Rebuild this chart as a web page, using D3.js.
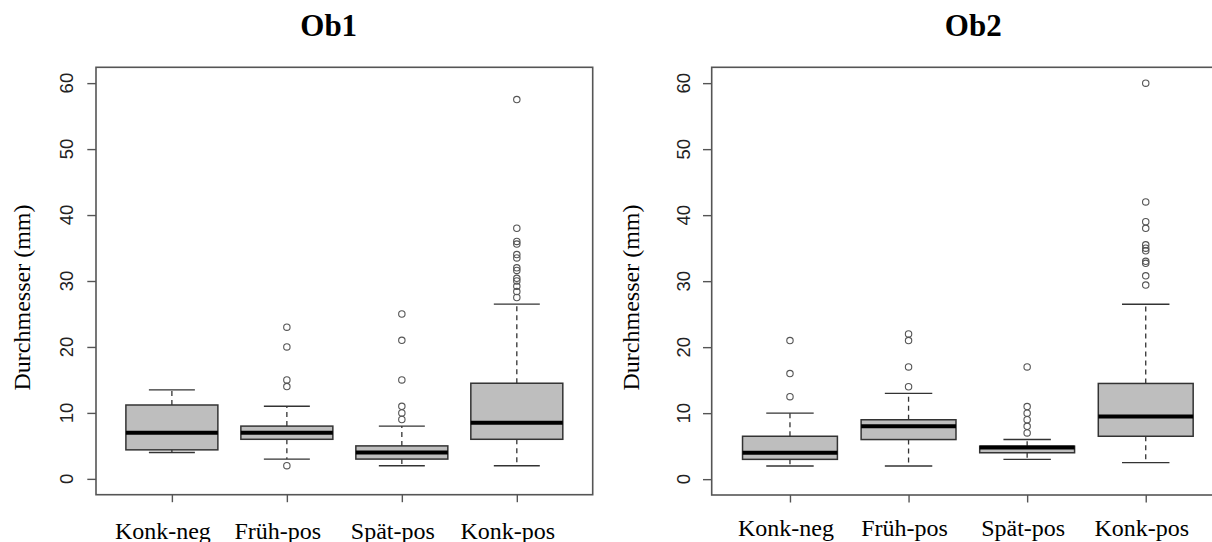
<!DOCTYPE html>
<html>
<head>
<meta charset="utf-8">
<script src="https://cdn.jsdelivr.net/npm/d3@7"></script>
<style>
  html, body { margin: 0; padding: 0; background: #fff; }
  svg { display: block; }
</style>
</head>
<body>
<svg id="chart" width="1212" height="542"></svg>
<script>
// ---------- data ----------
const categories = ["Konk-neg", "Früh-pos", "Spät-pos", "Konk-pos"];
const yTicks = [0, 10, 20, 30, 40, 50, 60];
const panelTitles = ["Ob1", "Ob2"];
const yLabel = "Durchmesser (mm)";

// [lower whisker, Q1, median, Q3, upper whisker]
const ob1Stats = [
  [4, 4.4, 7, 11.2, 13.5],
  [3, 6, 7, 8, 11],
  [2, 3, 4, 5, 8],
  [2, 6, 8.5, 14.5, 26.5]
];
const ob1Outliers = [
  [],
  [23, 20, 15, 14, 2],
  [25, 21, 15, 11, 10, 9],
  [57.5, 38, 36, 35.6, 34, 33.5, 32, 31.6, 30.4, 30, 29.2, 28.4, 27.5]
];
const ob2Stats = [
  [2, 3, 4, 6.5, 10],
  [2, 6, 8, 9, 13],
  [3, 4, 4.8, 5, 6],
  [2.5, 6.5, 9.5, 14.5, 26.5]
];
const ob2Outliers = [
  [21, 16, 12.5],
  [22, 21, 17, 14],
  [17, 11, 10, 9, 8, 7],
  [60, 42, 39, 38, 35.5, 35, 34.6, 33, 32.7, 30.8, 29.4]
];

// ---------- layout ----------
const panels = [
  { title: panelTitles[0], stats: ob1Stats, outliers: ob1Outliers,
    x0: 96, x1: 592.7, y0: 67.3, y1: 494.7,
    titleX: 328.7, yTitleX: 29.5, yTickX: 72.7, xLabY: 538.5, xLabDx: -9 },
  { title: panelTitles[1], stats: ob2Stats, outliers: ob2Outliers,
    x0: 711.7, x1: 1224, y0: 67.3, y1: 495,
    titleX: 973.3, yTitleX: 639.3, yTickX: 690, xLabY: 535.5, xLabDx: -4 }
];

const svg = d3.select("#chart");
const serif = "'Liberation Serif', 'Times New Roman', serif";
const sans = "'Liberation Sans', Arial, sans-serif";
const frameCol = "#555";

panels.forEach(p => {
  const g = svg.append("g");
  const x = d3.scaleLinear().domain([0.34, 4.66]).range([p.x0, p.x1]);
  const y = d3.scaleLinear().domain([-2.4, 62.4]).range([p.y1, p.y0]);
  const unit = x(2) - x(1);
  const bw = 0.8 * unit;
  const cw = 0.4 * unit;

  // boxes
  p.stats.forEach((s, i) => {
    const cx = x(i + 1);
    const [lo, q1, med, q3, hi] = s;
    const bg = g.append("g");
    // whiskers (dashed)
    bg.append("line").attr("x1", cx).attr("x2", cx).attr("y1", y(q3)).attr("y2", y(hi))
      .attr("stroke", "#333").attr("stroke-width", 1.3).attr("stroke-dasharray", "5,4");
    bg.append("line").attr("x1", cx).attr("x2", cx).attr("y1", y(q1)).attr("y2", y(lo))
      .attr("stroke", "#333").attr("stroke-width", 1.3).attr("stroke-dasharray", "5,4");
    // caps
    [lo, hi].forEach(v => {
      bg.append("line").attr("x1", cx - cw / 2).attr("x2", cx + cw / 2)
        .attr("y1", y(v)).attr("y2", y(v))
        .attr("stroke", "#333").attr("stroke-width", 1.4);
    });
    // box
    bg.append("rect").attr("x", cx - bw / 2).attr("width", bw)
      .attr("y", y(q3)).attr("height", y(q1) - y(q3))
      .attr("fill", "#bebebe").attr("stroke", "#333").attr("stroke-width", 1.5);
    // median
    bg.append("line").attr("x1", cx - bw / 2).attr("x2", cx + bw / 2)
      .attr("y1", y(med)).attr("y2", y(med))
      .attr("stroke", "#000").attr("stroke-width", 4);
    // outliers
    bg.selectAll("circle").data(p.outliers[i]).join("circle")
      .attr("cx", cx).attr("cy", d => y(d)).attr("r", 3.2)
      .attr("fill", "none").attr("stroke", "#555").attr("stroke-width", 1.1);
  });

  // frame
  g.append("rect").attr("x", p.x0).attr("y", p.y0)
    .attr("width", p.x1 - p.x0).attr("height", p.y1 - p.y0)
    .attr("fill", "none").attr("stroke", frameCol).attr("stroke-width", 1.6);

  // y axis ticks
  const yAx = g.append("g").attr("transform", `translate(${p.x0},0)`)
    .call(d3.axisLeft(y).tickValues(yTicks).tickSize(8.7).tickFormat(""));
  yAx.select(".domain").remove();
  yAx.selectAll("line").attr("stroke", frameCol).attr("stroke-width", 1.4);
  yTicks.forEach(t => {
    g.append("text")
      .attr("transform", `translate(${p.yTickX},${y(t)}) rotate(-90)`)
      .attr("text-anchor", "middle")
      .attr("font-family", sans).attr("font-size", 18.5).attr("fill", "#222")
      .text(t);
  });

  // x axis ticks
  const xAx = g.append("g").attr("transform", `translate(0,${p.y1})`)
    .call(d3.axisBottom(x).tickValues([1, 2, 3, 4]).tickSize(7.5).tickFormat(""));
  xAx.select(".domain").remove();
  xAx.selectAll("line").attr("stroke", frameCol).attr("stroke-width", 1.4);
  categories.forEach((c, i) => {
    g.append("text")
      .attr("x", x(i + 1) + p.xLabDx).attr("y", p.xLabY)
      .attr("text-anchor", "middle")
      .attr("font-family", serif).attr("font-size", 24).attr("fill", "#000")
      .text(c);
  });

  // y title
  g.append("text")
    .attr("transform", `translate(${p.yTitleX},297.5) rotate(-90)`)
    .attr("text-anchor", "middle")
    .attr("font-family", serif).attr("font-size", 24).attr("fill", "#000")
    .text(yLabel);

  // title
  g.append("text")
    .attr("x", p.titleX).attr("y", 36)
    .attr("text-anchor", "middle")
    .attr("font-family", serif).attr("font-size", 31).attr("font-weight", "bold")
    .attr("fill", "#000")
    .text(p.title);
});
</script>
</body>
</html>
